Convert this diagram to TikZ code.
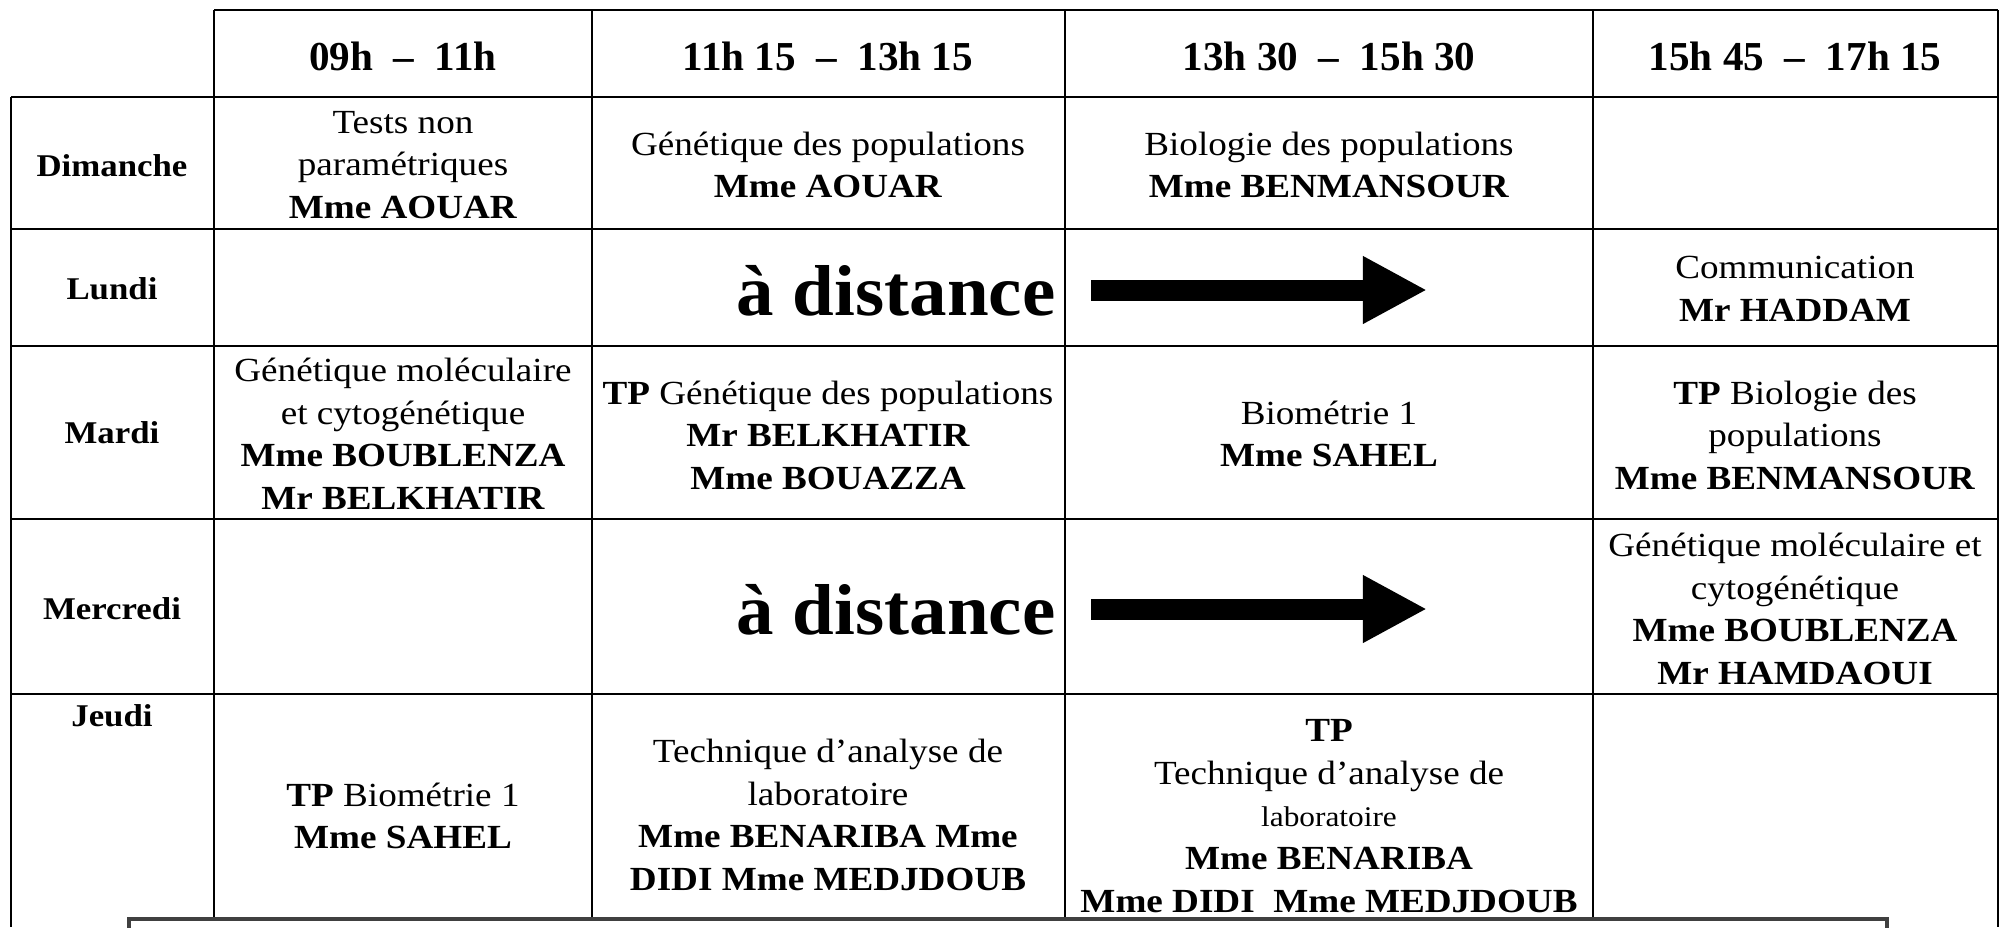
\documentclass[tikz,border=0pt]{standalone}
\usepackage{fontspec}
\setmainfont[FakeStretch=1.1]{Liberation Serif}
\newfontfamily\hdfont{Liberation Serif}
\newfontfamily\bigfont[FakeStretch=1.04]{Liberation Serif}
\usetikzlibrary{arrows.meta}

\begin{document}
\begin{tikzpicture}[
        x=0.01cm, y=-0.01cm,
        grid/.style={line width=0.75pt},
        hd/.style={font=\hdfont\fontsize{11.7}{13}\selectfont\bfseries, align=center},
        day/.style={font=\fontsize{9}{11}\selectfont\bfseries, align=center},
        cell/.style={font=\fontsize{9.6}{12.1}\selectfont, align=center, inner sep=0pt},
        far/.style={font=\bigfont\fontsize{20.5}{24}\selectfont\bfseries, inner sep=0pt, anchor=base east},
        bigarrow/.style={line width=0.21cm, -{Triangle[length=0.64cm, width=0.63cm]}}
    ]
        \useasboundingbox (0,0) rectangle (2000,927);
        \clip (0,0) rectangle (2000,927);

        % Grid
        \draw[grid] (214,10) -- (1998,10);
        \foreach \yy in {97,229,346,519,694}
            \draw[grid] (11,\yy) -- (1998,\yy);
        \draw[grid] (11,97) -- (11,927);
        \foreach \xx in {214,592,1065,1593,1998}
            \draw[grid] (\xx,10) -- (\xx,927);

        % Header
        \node[hd] (h09) at (403,56) {09h~~–~~11h};
        \node[hd] (h11) at (828,56) {11h 15~~–~~13h 15};
        \node[hd] (h13) at (1329,56) {13h 30~~–~~15h 30};
        \node[hd] (h15) at (1795,56) {15h 45~~–~~17h 15};

        % Days
        \node[day] (dim) at (112,166) {Dimanche};
        \node[day] (lun) at (112,289) {Lundi};
        \node[day] (mar) at (112,433) {Mardi};
        \node[day] (mer) at (112,609) {Mercredi};
        \node[day, anchor=north, inner sep=0pt] (jeu) at (112,704) {Jeudi};

        % Dimanche
        \node[cell] (dim1) at (403,165) {Tests non\\paramétriques\\\textbf{Mme AOUAR}};
        \node[cell] (dim2) at (828,165) {Génétique des populations\\\textbf{Mme AOUAR}};
        \node[cell] (dim3) at (1329,165) {Biologie des populations\\\textbf{Mme BENMANSOUR}};

        % Lundi
        \node[far] (distL) at (1056,315) {à distance};
        \coordinate (arrL1) at (1091,290);
        \coordinate (arrL2) at (1427,290);
        \draw[bigarrow] (arrL1) -- (arrL2);
        \node[cell] (lun4) at (1795,289) {Communication\\\textbf{Mr HADDAM}};

        % Mardi
        \node[cell] (mar1) at (403,434) {Génétique moléculaire\\et cytogénétique\\\textbf{Mme BOUBLENZA}\\\textbf{Mr BELKHATIR}};
        \node[cell] (mar2) at (828,435) {\textbf{TP} Génétique des populations\\\textbf{Mr BELKHATIR}\\\textbf{Mme BOUAZZA}};
        \node[cell] (mar3) at (1329,434) {Biométrie 1\\\textbf{Mme SAHEL}};
        \node[cell] (mar4) at (1795,435) {\textbf{TP} Biologie des\\populations\\\textbf{Mme BENMANSOUR}};

        % Mercredi
        \node[far] (distM) at (1056,634) {à distance};
        \coordinate (arrM1) at (1091,609);
        \coordinate (arrM2) at (1427,609);
        \draw[bigarrow] (arrM1) -- (arrM2);
        \node[cell] (mer4) at (1795,609) {Génétique moléculaire et\\cytogénétique\\\textbf{Mme BOUBLENZA}\\\textbf{Mr HAMDAOUI}};

        % Jeudi
        \node[cell] (jeu1) at (403,816) {\textbf{TP} Biométrie 1\\\textbf{Mme SAHEL}};
        \node[cell] (jeu2) at (828,815) {Technique d’analyse de\\laboratoire\\\textbf{Mme BENARIBA Mme}\\\textbf{DIDI Mme MEDJDOUB}};
        \node[cell] (jeu3) at (1329,816) {\textbf{TP}\\Technique d’analyse de\\{\fontsize{8.1}{12.1}\selectfont laboratoire}\\\textbf{Mme BENARIBA}\\\textbf{Mme DIDI~~Mme MEDJDOUB}};

        % Note box
        \draw[fill=white, draw=black!75, line width=0.9pt] (129,919) rectangle (1887,990);
\end{tikzpicture}
\end{document}
